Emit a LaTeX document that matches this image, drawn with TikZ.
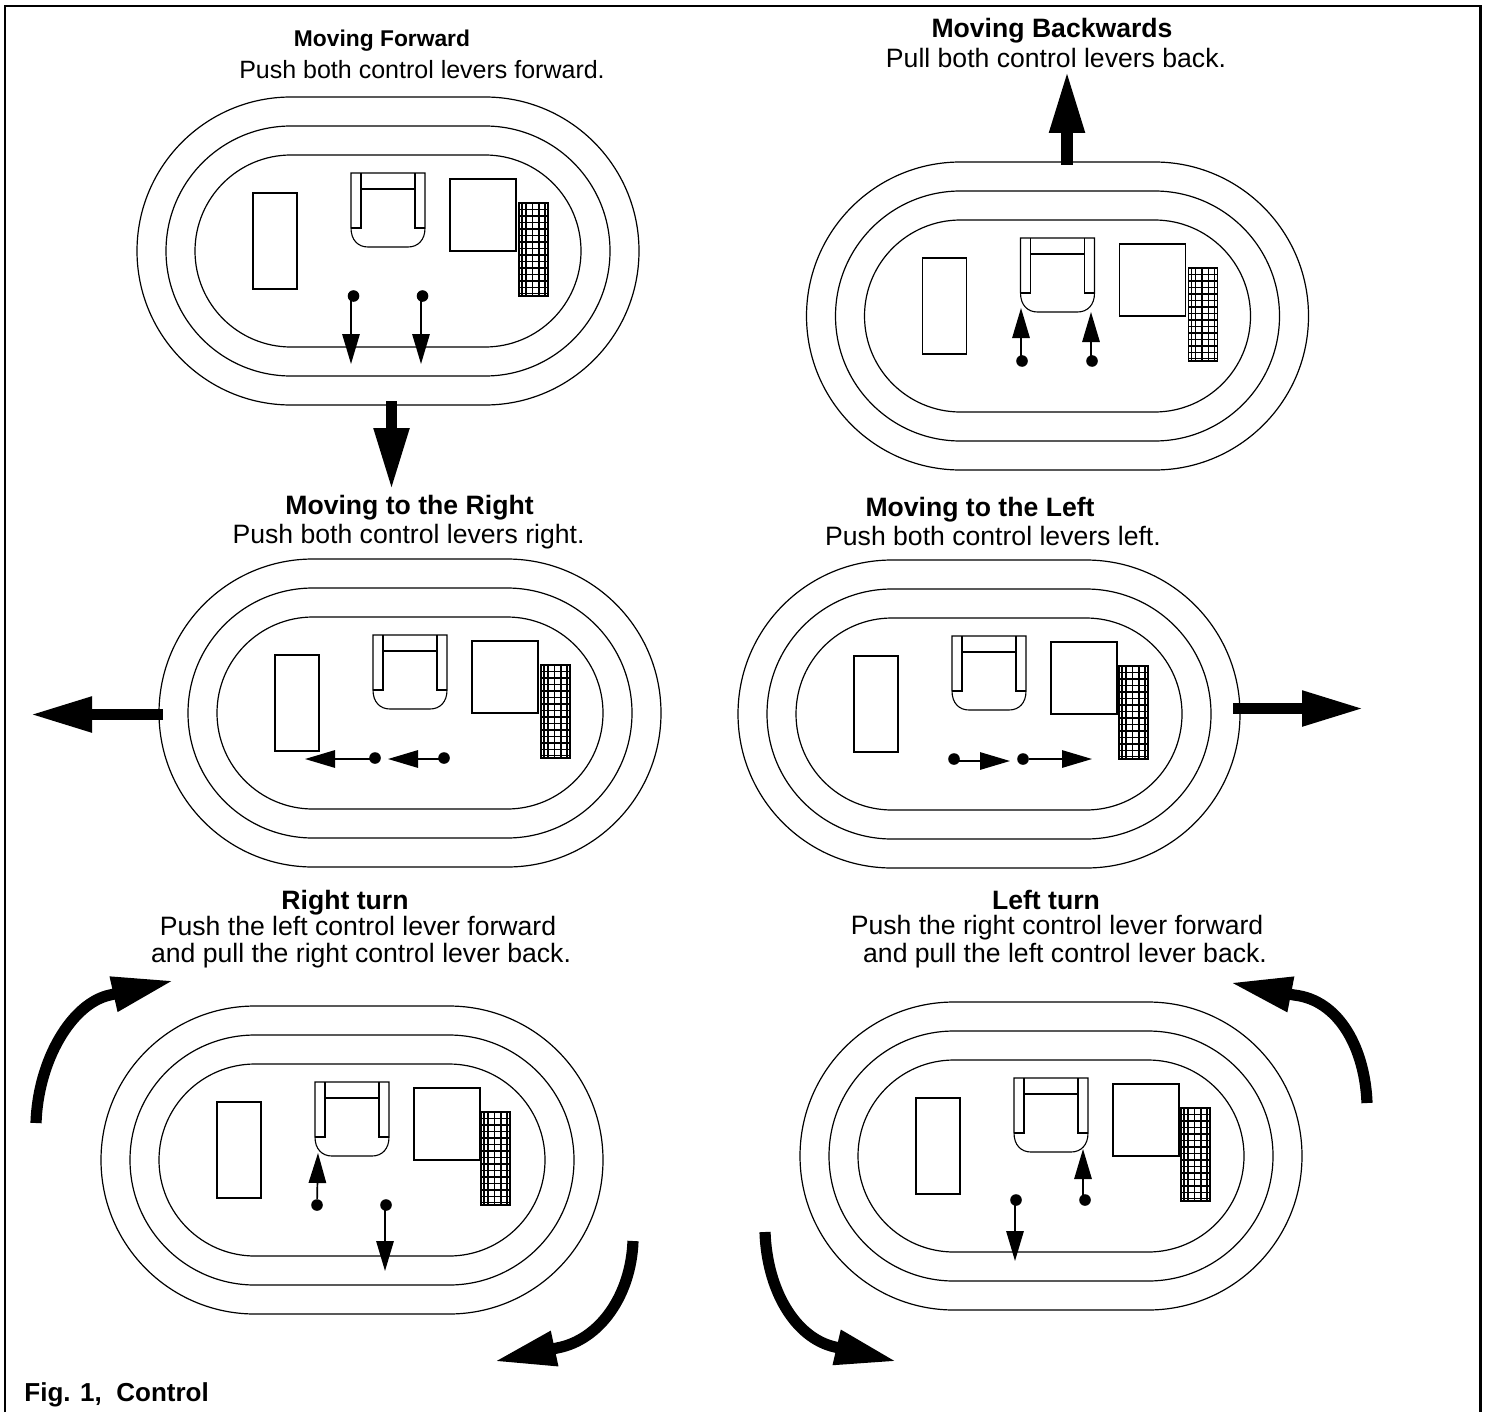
\documentclass[tikz,border=0pt]{standalone}
\usepackage{fontspec}
\usepackage{tikz}
\usetikzlibrary{arrows.meta}
\setmainfont{Liberation Sans}
\tikzset{
  track/.style={draw=black,line width=0.6pt},
  part/.style={draw=black,line width=0.55pt},
  gridline/.style={draw=black,line width=0.6pt},
  leverdot/.style={circle,fill=black,inner sep=0pt,minimum size=5.8pt},
  leverline/.style={draw=black,line width=0.85pt,-{Triangle[length=15pt,width=8.7pt]}},
  bigarrow/.style={draw=black,line width=5.6pt,-{Triangle[length=31pt,width=16.5pt]}},
  headtext/.style={anchor=base,inner sep=0pt,font=\bfseries\fontsize{13.3}{15}\selectfont},
  bodytext/.style={anchor=base,inner sep=0pt,font=\fontsize{13.3}{15}\selectfont},
  pics/machine/.style={code={
    % tracks
    \draw[track,rounded corners=77pt] (137,97) rectangle (639,405);
    \draw[track,rounded corners=62.5pt] (166,126) rectangle (610,376);
    \draw[track,rounded corners=48pt] (195,155) rectangle (581,347);
    % engine and seat
    \draw[part] (253,193) rectangle (297,289);
    \draw[part] (425,173) -- (351,173) -- (351,228) .. controls (351,240) and (358,247) .. (368,247) -- (408,247) .. controls (418,247) and (425,240) .. (425,228) -- cycle;
    \draw[part] (361,173) -- (361,228) -- (351,228);
    \draw[part] (415,173) -- (415,228) -- (425,228);
    \draw[part] (361,189) -- (415,189);
    \draw[part] (450,179) rectangle (516,251);
    % mesh
    \begin{scope}[xshift=#1*0.5pt]
    \draw[gridline] (519,203) rectangle (548,296);
    \foreach \gx in {522,526,532.5,539,545}
      \draw[gridline] (\gx,203) -- (\gx,296);
    \foreach \gy in {209.5,216,222.5,229,235.5,242,248.5,255,261.5,268,274.5,281,287.5,293.5}
      \draw[gridline] (519,\gy) -- (548,\gy);
    \end{scope}
  }}
}
\begin{document}
\begin{tikzpicture}[x=0.5pt,y=-0.5pt]
\useasboundingbox (0,0) rectangle (1486,1412);
\draw[black,line width=1.3pt] (5,1412) -- (5,6) -- (1480.5,6) -- (1480.5,1412);
% the six machines
\pic at (0,0) {machine=0};
\pic at (669.5,65) {machine=0};
\pic at (22,462) {machine=0};
\pic at (601,463) {machine=-1};
\pic at (-36,909) {machine=-2};
\pic at (663,905) {machine=-1};
% texts
\node[headtext,font=\bfseries\fontsize{11.4}{14}\selectfont] (fwdhead) at (382,47) {Moving Forward};
\node[bodytext,font=\fontsize{12.5}{14}\selectfont] (fwdbody) at (422,79) {Push both control levers forward.};
\node[headtext] (backhead) at (1052,38) {Moving Backwards};
\node[bodytext] (backbody) at (1056,68) {Pull both control levers back.};
\node[headtext] (righthead) at (409.5,514) {Moving to the Right};
\node[bodytext] (rightbody) at (408.5,543) {Push both control levers right.};
\node[headtext] (lefthead) at (980,516) {Moving to the Left};
\node[bodytext] (leftbody) at (993,545) {Push both control levers left.};
\node[headtext] (rturnhead) at (345,909) {Right turn};
\node[bodytext] (rturnone) at (358,935) {Push the left control lever forward};
\node[bodytext] (rturntwo) at (361,962) {and pull the right control lever back.};
\node[headtext] (lturnhead) at (1046,909) {Left turn};
\node[bodytext] (lturnone) at (1057,934) {Push the right control lever forward};
\node[bodytext] (lturntwo) at (1065,962) {and pull the left control lever back.};
\node[headtext,anchor=base west,font=\bfseries\fontsize{13}{15}\selectfont] (figlabel) at (24,1401) {Fig. 1,\ \ Control};
% big arrows
\coordinate (fwdtail) at (391.5,401);
\coordinate (fwdtip) at (391.5,490);
\coordinate (backtail) at (1067,165);
\coordinate (backtip) at (1067,71);
\coordinate (righttail) at (163,714.5);
\coordinate (righttip) at (30,714.5);
\coordinate (lefttail) at (1233,708.5);
\coordinate (lefttip) at (1364,708.5);
\coordinate (rturntaila) at (36,1123);
\coordinate (rturnjoina) at (110,995);
\coordinate (rturntipa) at (174,980.5);
\coordinate (rturntailb) at (633,1241);
\coordinate (rturnjoinb) at (557,1348);
\coordinate (rturntipb) at (494,1361.5);
\coordinate (lturntaila) at (1367,1103);
\coordinate (lturnjoina) at (1294,995);
\coordinate (lturntipa) at (1230,982.5);
\coordinate (lturntailb) at (765,1232);
\coordinate (lturnjoinb) at (835,1347);
\coordinate (lturntipb) at (897,1361.5);
\draw[bigarrow] (fwdtail) -- (fwdtip);
\draw[bigarrow] (backtail) -- (backtip);
\draw[bigarrow] (righttail) -- (righttip);
\draw[bigarrow] (lefttail) -- (lefttip);
\draw[bigarrow] (rturntaila) .. controls (38,1060) and (72,1003) .. (rturnjoina) -- (rturntipa);
\draw[bigarrow] (rturntailb) .. controls (631,1295) and (600,1340) .. (rturnjoinb) -- (rturntipb);
\draw[bigarrow] (lturntaila) .. controls (1365,1050) and (1340,1000) .. (lturnjoina) -- (lturntipa);
\draw[bigarrow] (lturntailb) .. controls (767,1290) and (795,1338) .. (lturnjoinb) -- (lturntipb);
% levers
\node[leverdot] (fwdl) at (353.5,296) {};
\node[leverdot] (fwdr) at (422.5,296) {};
\coordinate (fwdltip) at (351,364);
\coordinate (fwdrtip) at (421,364);
\draw[leverline] (fwdltip |- fwdl) -- (fwdltip);
\draw[leverline] (fwdrtip |- fwdr) -- (fwdrtip);
\node[leverdot] (backl) at (1022,361) {};
\node[leverdot] (backr) at (1092,361) {};
\coordinate (backltip) at (1021,308);
\coordinate (backrtip) at (1091,312);
\draw[leverline] (backltip |- backl) -- (backltip);
\draw[leverline] (backrtip |- backr) -- (backrtip);
\node[leverdot] (rightl) at (375,758) {};
\node[leverdot] (rightr) at (444,758) {};
\coordinate (rightltip) at (305,759);
\coordinate (rightrtip) at (388,759);
\draw[leverline] (rightl -| rightltip) ++(70,1) -- (rightltip);
\draw[leverline] (rightr -| rightrtip) ++(56,1) -- (rightrtip);
\node[leverdot] (leftl) at (954,759) {};
\node[leverdot] (leftr) at (1023,759) {};
\coordinate (leftltip) at (1010,761);
\coordinate (leftrtip) at (1092,759);
\draw[leverline] (leftl |- leftltip) -- (leftltip);
\draw[leverline] (leftr) -- (leftrtip);
\node[leverdot] (rturnl) at (317,1205) {};
\node[leverdot] (rturnr) at (386,1205) {};
\coordinate (rturnltip) at (318,1153);
\coordinate (rturnrtip) at (385,1271);
\draw[leverline] (rturnl) -- (rturnltip);
\draw[leverline] (rturnrtip |- rturnr) -- (rturnrtip);
\node[leverdot] (lturnl) at (1016,1200) {};
\node[leverdot] (lturnr) at (1085,1200) {};
\coordinate (lturnltip) at (1015,1261);
\coordinate (lturnrtip) at (1083,1149);
\draw[leverline] (lturnltip |- lturnl) -- (lturnltip);
\draw[leverline] (lturnrtip |- lturnr) -- (lturnrtip);
\end{tikzpicture}
\end{document}
